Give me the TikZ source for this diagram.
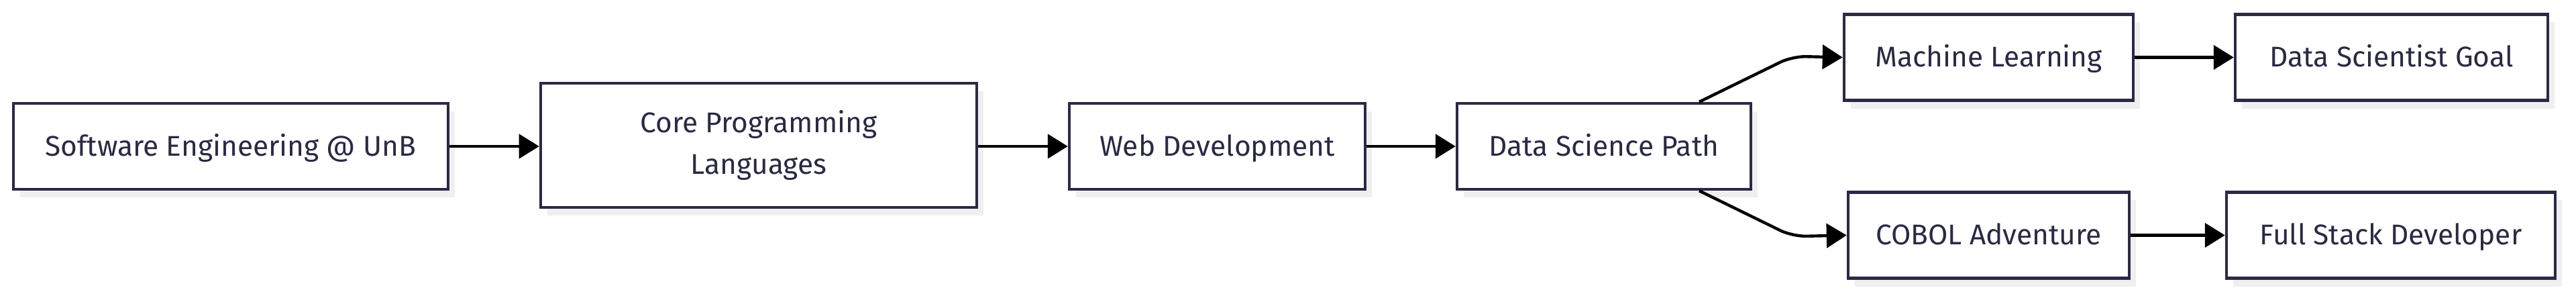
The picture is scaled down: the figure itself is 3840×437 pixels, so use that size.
\documentclass[tikz,border=0pt]{standalone}
\usepackage{fontspec}
\setmainfont{Fira Sans}
\usetikzlibrary{arrows.meta,shadows}

\definecolor{ink}{HTML}{2A2A45}
\definecolor{shade}{HTML}{EFEFEF}

\tikzset{
  box/.style={draw=ink, line width=0.11cm, fill=white, text=ink,
    minimum height=3.2cm, align=center,
    font=\fontsize{30.2}{44}\selectfont, text height=21pt, text depth=0.5pt,
    drop shadow={shadow xshift=0.25cm, shadow yshift=-0.3cm, fill=shade, opacity=1, draw=none}},
  arr/.style={line width=0.11cm, -{Triangle[length=0.75cm,width=0.9cm]}},
}

\begin{document}
\begin{tikzpicture}[x=0.025cm, y=-0.025cm]
  \useasboundingbox (0,0) rectangle (3840,437);

  \node[box, minimum width=16.2cm] (se) at (344,218) {Software Engineering @ UnB};
  \node[box, minimum width=16.25cm, minimum height=4.625cm, text height={}, text depth={}] (core) at (1131,216.5) {Core Programming\\Languages};
  \node[box, minimum width=11.025cm] (web) at (1814.5,218) {Web Development};
  \node[box, minimum width=10.95cm] (dsp) at (2391,218) {Data Science Path};
  \node[box, minimum width=10.775cm] (ml) at (2964.5,85.5) {Machine Learning};
  \node[box, minimum width=11.65cm] (dsg) at (3565,85.5) {Data Scientist Goal};
  \node[box, minimum width=10.475cm] (cobol) at (2964.5,350.5) {COBOL Adventure};
  \node[box, minimum width=12.25cm] (fsd) at (3564,350.5) {Full Stack Developer};

  \draw[arr] (se.east) -- (core.west |- se.east);
  \draw[arr] (core.east |- web.west) -- (web.west);
  \draw[arr] (web.east) -- (dsp.west);
  \draw[arr, rounded corners=0.5cm] (dsp.25) -- ++(139,-68) -- (ml.west);
  \draw[arr, rounded corners=0.5cm] (dsp.-25) -- ++(139,68) -- (cobol.west);
  \draw[arr] (ml.east) -- (dsg.west);
  \draw[arr] (cobol.east) -- (fsd.west);
\end{tikzpicture}
\end{document}
